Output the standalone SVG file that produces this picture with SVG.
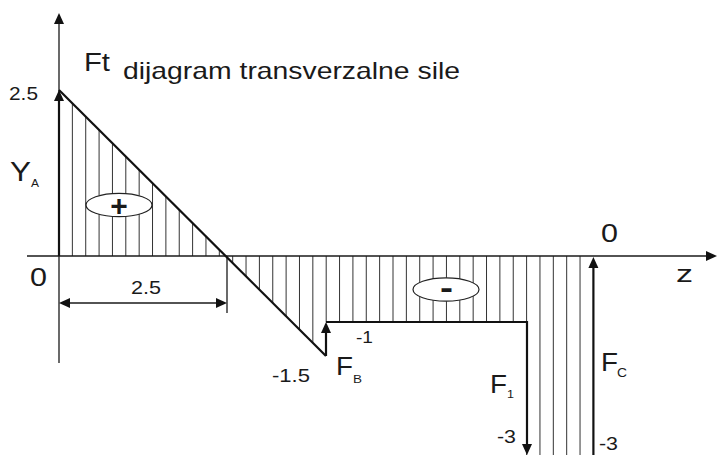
<svg xmlns="http://www.w3.org/2000/svg" width="717" height="455" viewBox="0 0 717 455">
<style>
.t{font-family:"Liberation Sans",Arial,sans-serif;fill:#1a1a1a}
.ax{stroke:#1a1a1a;stroke-width:1.3;fill:none}
.th{stroke:#111;stroke-width:2.2;fill:none}
.h{stroke:#333;stroke-width:1}
.ah{fill:#111}
.el{fill:#fff;stroke:#222;stroke-width:1.2}
</style>
<rect width="717" height="455" fill="#fff"/>
<g id="hatching" class="h">
<line x1="72.36" y1="103.3" x2="72.36" y2="256"/>
<line x1="85.72" y1="116.6" x2="85.72" y2="256"/>
<line x1="99.08" y1="129.9" x2="99.08" y2="256"/>
<line x1="112.44" y1="143.3" x2="112.44" y2="256"/>
<line x1="125.8" y1="156.6" x2="125.8" y2="256"/>
<line x1="139.16" y1="169.9" x2="139.16" y2="256"/>
<line x1="152.52" y1="183.2" x2="152.52" y2="256"/>
<line x1="165.88" y1="196.5" x2="165.88" y2="256"/>
<line x1="179.24" y1="209.8" x2="179.24" y2="256"/>
<line x1="192.6" y1="223.1" x2="192.6" y2="256"/>
<line x1="205.96" y1="236.4" x2="205.96" y2="256"/>
<line x1="219.32" y1="249.7" x2="219.32" y2="256"/>
<line x1="232.68" y1="256" x2="232.68" y2="263"/>
<line x1="246.04" y1="256" x2="246.04" y2="276.4"/>
<line x1="259.4" y1="256" x2="259.4" y2="289.7"/>
<line x1="272.76" y1="256" x2="272.76" y2="303"/>
<line x1="286.12" y1="256" x2="286.12" y2="316.3"/>
<line x1="299.48" y1="256" x2="299.48" y2="329.6"/>
<line x1="312.84" y1="256" x2="312.84" y2="342.9"/>
<line x1="326.2" y1="256" x2="326.2" y2="322"/>
<line x1="339.56" y1="256" x2="339.56" y2="322"/>
<line x1="352.92" y1="256" x2="352.92" y2="322"/>
<line x1="366.28" y1="256" x2="366.28" y2="322"/>
<line x1="379.64" y1="256" x2="379.64" y2="322"/>
<line x1="393" y1="256" x2="393" y2="322"/>
<line x1="406.36" y1="256" x2="406.36" y2="322"/>
<line x1="419.72" y1="256" x2="419.72" y2="322"/>
<line x1="433.08" y1="256" x2="433.08" y2="322"/>
<line x1="446.44" y1="256" x2="446.44" y2="322"/>
<line x1="459.8" y1="256" x2="459.8" y2="322"/>
<line x1="473.16" y1="256" x2="473.16" y2="322"/>
<line x1="486.52" y1="256" x2="486.52" y2="322"/>
<line x1="499.88" y1="256" x2="499.88" y2="322"/>
<line x1="513.24" y1="256" x2="513.24" y2="322"/>
<line x1="526.6" y1="256" x2="526.6" y2="455"/>
<line x1="539.96" y1="256" x2="539.96" y2="455"/>
<line x1="553.32" y1="256" x2="553.32" y2="455"/>
<line x1="566.68" y1="256" x2="566.68" y2="455"/>
<line x1="580.04" y1="256" x2="580.04" y2="455"/>
</g>
<g id="axes">
<line class="ax" x1="59" y1="363" x2="59" y2="22"/>
<polygon class="ah" points="59,13 54,24 64,24"/>
<line class="ax" x1="27" y1="256" x2="707" y2="256"/>
<polygon class="ah" points="717,256 706,251 706,261"/>
</g>
<g id="dimension">
<line class="ax" x1="227" y1="256" x2="227" y2="313"/>
<line class="ax" x1="68" y1="303" x2="218" y2="303"/>
<polygon class="ah" points="59,303 70,298 70,308"/>
<polygon class="ah" points="227,303 216,298 216,308"/>
<text class="t" x="131" y="294" font-size="19" textLength="30" lengthAdjust="spacingAndGlyphs">2.5</text>
</g>
<g id="diagram">
<line class="th" x1="59" y1="256" x2="59" y2="99"/>
<polygon class="ah" points="59,90 54,101 64,101"/>
<line class="th" x1="59" y1="90" x2="326" y2="356"/>
<line class="th" x1="326" y1="356" x2="326" y2="331"/>
<polygon class="ah" points="326,322 321,333 331,333"/>
<polyline class="th" points="326,322 527,322 527,446"/>
<polygon class="ah" points="527,455 522,444 532,444"/>
<line class="th" x1="593.4" y1="455" x2="593.4" y2="266"/>
<polygon class="ah" points="593.4,257 588.4,268 598.4,268"/>
</g>
<g id="plus">
<ellipse class="el" cx="119" cy="205" rx="33" ry="11.7"/>
<text class="t" x="119" y="216" font-size="30" font-weight="bold" text-anchor="middle">+</text>
</g>
<g id="minus">
<ellipse class="el" cx="446" cy="289.5" rx="33" ry="11.7"/>
<text class="t" x="446.5" y="297.5" font-size="32" font-weight="bold" text-anchor="middle" textLength="13" lengthAdjust="spacingAndGlyphs">-</text>
</g>
<g id="labels">
<text class="t" x="84" y="71" font-size="26" textLength="26" lengthAdjust="spacingAndGlyphs">Ft</text>
<text class="t" x="123" y="79" font-size="24" textLength="337" lengthAdjust="spacingAndGlyphs">dijagram transverzalne sile</text>
<text class="t" x="9" y="100" font-size="18" textLength="29" lengthAdjust="spacingAndGlyphs">2.5</text>
<text class="t" x="10" y="181" font-size="28" textLength="21" lengthAdjust="spacingAndGlyphs">Y</text>
<text class="t" x="31" y="187" font-size="11" textLength="8" lengthAdjust="spacingAndGlyphs">A</text>
<text class="t" x="30" y="286" font-size="26" textLength="17" lengthAdjust="spacingAndGlyphs">0</text>
<text class="t" x="601" y="242" font-size="26" textLength="17" lengthAdjust="spacingAndGlyphs">0</text>
<text class="t" x="676" y="282" font-size="23" textLength="17" lengthAdjust="spacingAndGlyphs">z</text>
<text class="t" x="356" y="343" font-size="17" textLength="17" lengthAdjust="spacingAndGlyphs">-1</text>
<text class="t" x="272" y="382" font-size="19" textLength="38" lengthAdjust="spacingAndGlyphs">-1.5</text>
<text class="t" x="336" y="375" font-size="25" textLength="17" lengthAdjust="spacingAndGlyphs">F</text>
<text class="t" x="353" y="383" font-size="11" textLength="9" lengthAdjust="spacingAndGlyphs">B</text>
<text class="t" x="490" y="393" font-size="25" textLength="17" lengthAdjust="spacingAndGlyphs">F</text>
<text class="t" x="507" y="398" font-size="11" textLength="7" lengthAdjust="spacingAndGlyphs">1</text>
<text class="t" x="601" y="371" font-size="25" textLength="17" lengthAdjust="spacingAndGlyphs">F</text>
<text class="t" x="617" y="377" font-size="12" textLength="10" lengthAdjust="spacingAndGlyphs">C</text>
<text class="t" x="497" y="443" font-size="19" textLength="19" lengthAdjust="spacingAndGlyphs">-3</text>
<text class="t" x="599" y="450" font-size="19" textLength="19" lengthAdjust="spacingAndGlyphs">-3</text>
</g>
</svg>
